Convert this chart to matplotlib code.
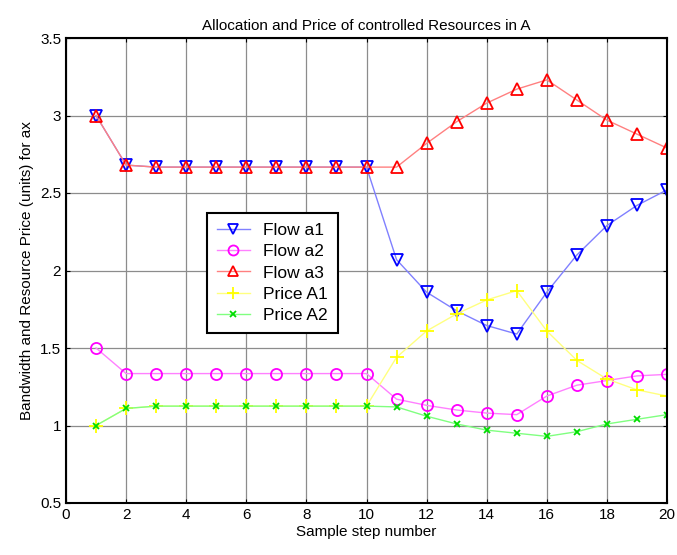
import matplotlib
matplotlib.use("Agg")
import matplotlib.pyplot as plt

plt.rcParams['font.family'] = ['Liberation Sans', 'DejaVu Sans']

steps = list(range(1, 21))
flow_a1 = [3.0, 2.68, 2.667, 2.667, 2.667, 2.667, 2.667, 2.667, 2.667, 2.667,
           2.07, 1.86, 1.74, 1.645, 1.59, 1.86, 2.10, 2.29, 2.42, 2.52]
flow_a2 = [1.5, 1.335, 1.335, 1.335, 1.335, 1.335, 1.335, 1.335, 1.335, 1.335,
           1.17, 1.13, 1.10, 1.08, 1.07, 1.19, 1.26, 1.29, 1.32, 1.33]
flow_a3 = [3.0, 2.68, 2.667, 2.667, 2.667, 2.667, 2.667, 2.667, 2.667, 2.667,
           2.667, 2.82, 2.96, 3.08, 3.17, 3.23, 3.10, 2.97, 2.88, 2.79]
price_A1 = [1.0, 1.11, 1.125, 1.125, 1.125, 1.125, 1.125, 1.125, 1.125, 1.125,
            1.44, 1.61, 1.72, 1.81, 1.87, 1.61, 1.42, 1.30, 1.23, 1.19]
price_A2 = [1.0, 1.11, 1.125, 1.125, 1.125, 1.125, 1.125, 1.125, 1.125, 1.125,
            1.12, 1.06, 1.01, 0.97, 0.95, 0.93, 0.96, 1.01, 1.04, 1.07]

fig = plt.figure(figsize=(6.77, 5.55), dpi=100)
ax = fig.add_axes([66/677, 1-503/555, 601/677, 465/555])

series = [
    (flow_a1, 'Flow a1', '#8080ff', '#0000ff', 'v', 8),
    (flow_a2, 'Flow a2', '#ff80ff', '#ff00ff', 'o', 8),
    (flow_a3, 'Flow a3', '#ff8080', '#ff0000', '^', 8),
    (price_A1, 'Price A1', '#ffff80', '#ffff00', '+', 10),
    (price_A2, 'Price A2', '#80ff80', '#00dd00', 'x', 5),
]
for vals, lab, lc, mc, m, ms in series:
    ax.plot(steps, vals, color=lc, lw=1.0, marker=m, ms=ms, mfc='none',
            mec=mc, mew=1.3, label=lab)

ax.set_xlim(0, 20)
ax.set_ylim(0.5, 3.5)
ax.set_xticks(range(0, 21, 2))
ax.set_yticks([0.5, 1, 1.5, 2, 2.5, 3, 3.5])
ax.set_yticklabels(['0.5', '1', '1.5', '2', '2.5', '3', '3.5'])
ax.grid(True, color='#8c8c8c', lw=0.9)
ax.tick_params(direction='in', labelsize=11, length=3, top=True, right=True)
for s in ax.spines.values():
    s.set_linewidth(1.5)
    s.set_color('black')

ax.set_title('Allocation and Price of controlled Resources in A', fontsize=11)
ax.set_xlabel('Sample step number', fontsize=11, labelpad=2)
ax.set_ylabel('Bandwidth and Resource Price (units) for ax', fontsize=11)

leg = ax.legend(loc='upper left', bbox_to_anchor=((207-66)/601, (503-213)/465),
                fontsize=12.5, frameon=True, fancybox=False, edgecolor='black',
                borderpad=0.55, labelspacing=0.36, handlelength=1.9,
                handletextpad=0.8, borderaxespad=0, markerscale=0.9,
                framealpha=1)
leg.get_frame().set_linewidth(1.5)

fig.savefig('out.png', dpi=100)
